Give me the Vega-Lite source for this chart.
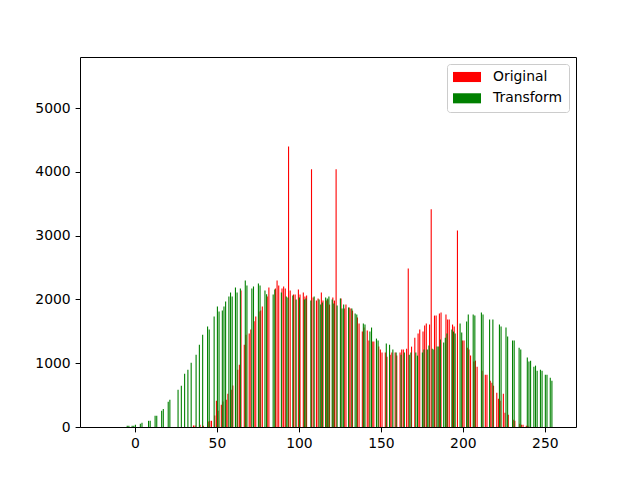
{
  "$schema": "https://vega.github.io/schema/vega-lite/v6.json",
  "width": 496,
  "height": 370,
  "autosize": {"type": "none"},
  "padding": {"left": 80, "top": 57, "right": 64, "bottom": 53},
  "background": "white",
  "config": {
    "font": "DejaVu Sans",
    "view": {"stroke": "black", "strokeWidth": 1},
    "axis": {
      "domain": false,
      "grid": false,
      "tickColor": "black",
      "tickSize": 4.9,
      "tickWidth": 1,
      "labelFontSize": 13.9,
      "labelColor": "black",
      "labelPadding": 4.9,
      "title": null
    }
  },
  "datasets": {
    "original": [
      {"value": 36, "count": 24, "series": "Original"}, {"value": 37, "count": 24, "series": "Original"},
      {"value": 40, "count": 34, "series": "Original"}, {"value": 42, "count": 18, "series": "Original"},
      {"value": 45, "count": 86, "series": "Original"}, {"value": 46, "count": 97, "series": "Original"},
      {"value": 47, "count": 97, "series": "Original"}, {"value": 49, "count": 181, "series": "Original"},
      {"value": 50, "count": 412, "series": "Original"}, {"value": 51, "count": 255, "series": "Original"},
      {"value": 53, "count": 349, "series": "Original"}, {"value": 54, "count": 401, "series": "Original"},
      {"value": 56, "count": 427, "series": "Original"}, {"value": 57, "count": 521, "series": "Original"},
      {"value": 59, "count": 584, "series": "Original"}, {"value": 60, "count": 652, "series": "Original"},
      {"value": 63, "count": 899, "series": "Original"}, {"value": 64, "count": 977, "series": "Original"},
      {"value": 65, "count": 2141, "series": "Original"}, {"value": 67, "count": 1291, "series": "Original"},
      {"value": 68, "count": 1448, "series": "Original"}, {"value": 70, "count": 1464, "series": "Original"},
      {"value": 71, "count": 1527, "series": "Original"}, {"value": 73, "count": 1658, "series": "Original"},
      {"value": 74, "count": 1731, "series": "Original"}, {"value": 76, "count": 1810, "series": "Original"},
      {"value": 77, "count": 1825, "series": "Original"}, {"value": 78, "count": 1888, "series": "Original"},
      {"value": 81, "count": 2045, "series": "Original"}, {"value": 82, "count": 2187, "series": "Original"},
      {"value": 86, "count": 2171, "series": "Original"}, {"value": 87, "count": 2297, "series": "Original"},
      {"value": 88, "count": 2218, "series": "Original"}, {"value": 90, "count": 2171, "series": "Original"},
      {"value": 91, "count": 2203, "series": "Original"}, {"value": 92, "count": 2171, "series": "Original"},
      {"value": 94, "count": 4397, "series": "Original"}, {"value": 95, "count": 2140, "series": "Original"},
      {"value": 97, "count": 2077, "series": "Original"}, {"value": 98, "count": 2077, "series": "Original"},
      {"value": 100, "count": 2155, "series": "Original"}, {"value": 101, "count": 2077, "series": "Original"},
      {"value": 103, "count": 2108, "series": "Original"}, {"value": 104, "count": 2045, "series": "Original"},
      {"value": 105, "count": 2061, "series": "Original"}, {"value": 108, "count": 4040, "series": "Original"},
      {"value": 109, "count": 2030, "series": "Original"}, {"value": 111, "count": 1982, "series": "Original"},
      {"value": 112, "count": 2014, "series": "Original"}, {"value": 114, "count": 2108, "series": "Original"},
      {"value": 115, "count": 1982, "series": "Original"}, {"value": 117, "count": 1982, "series": "Original"},
      {"value": 118, "count": 1998, "series": "Original"}, {"value": 119, "count": 1919, "series": "Original"},
      {"value": 121, "count": 2030, "series": "Original"}, {"value": 122, "count": 1982, "series": "Original"},
      {"value": 123, "count": 4040, "series": "Original"}, {"value": 126, "count": 2014, "series": "Original"},
      {"value": 128, "count": 1857, "series": "Original"}, {"value": 129, "count": 1919, "series": "Original"},
      {"value": 131, "count": 1872, "series": "Original"}, {"value": 132, "count": 1857, "series": "Original"},
      {"value": 133, "count": 1825, "series": "Original"}, {"value": 136, "count": 1716, "series": "Original"},
      {"value": 137, "count": 1622, "series": "Original"}, {"value": 139, "count": 1496, "series": "Original"},
      {"value": 140, "count": 1559, "series": "Original"}, {"value": 142, "count": 1512, "series": "Original"},
      {"value": 143, "count": 1355, "series": "Original"}, {"value": 145, "count": 1339, "series": "Original"},
      {"value": 146, "count": 1339, "series": "Original"}, {"value": 149, "count": 1260, "series": "Original"},
      {"value": 150, "count": 1213, "series": "Original"}, {"value": 151, "count": 1166, "series": "Original"},
      {"value": 153, "count": 1166, "series": "Original"}, {"value": 154, "count": 1103, "series": "Original"},
      {"value": 156, "count": 1134, "series": "Original"}, {"value": 157, "count": 1166, "series": "Original"},
      {"value": 159, "count": 1166, "series": "Original"}, {"value": 160, "count": 1119, "series": "Original"},
      {"value": 162, "count": 1166, "series": "Original"}, {"value": 163, "count": 1213, "series": "Original"},
      {"value": 164, "count": 1213, "series": "Original"}, {"value": 166, "count": 1228, "series": "Original"},
      {"value": 167, "count": 2485, "series": "Original"}, {"value": 169, "count": 1260, "series": "Original"},
      {"value": 171, "count": 1401, "series": "Original"}, {"value": 173, "count": 1464, "series": "Original"},
      {"value": 174, "count": 1527, "series": "Original"}, {"value": 176, "count": 1496, "series": "Original"},
      {"value": 177, "count": 1590, "series": "Original"}, {"value": 178, "count": 1621, "series": "Original"},
      {"value": 180, "count": 1606, "series": "Original"}, {"value": 181, "count": 3412, "series": "Original"},
      {"value": 183, "count": 1747, "series": "Original"}, {"value": 184, "count": 1747, "series": "Original"},
      {"value": 186, "count": 1778, "series": "Original"}, {"value": 187, "count": 1794, "series": "Original"},
      {"value": 190, "count": 1763, "series": "Original"}, {"value": 191, "count": 1684, "series": "Original"},
      {"value": 192, "count": 1684, "series": "Original"}, {"value": 194, "count": 1606, "series": "Original"},
      {"value": 195, "count": 1574, "series": "Original"}, {"value": 197, "count": 3082, "series": "Original"},
      {"value": 200, "count": 1354, "series": "Original"}, {"value": 201, "count": 1354, "series": "Original"},
      {"value": 203, "count": 1244, "series": "Original"}, {"value": 204, "count": 1213, "series": "Original"},
      {"value": 205, "count": 1119, "series": "Original"}, {"value": 207, "count": 1025, "series": "Original"},
      {"value": 208, "count": 1040, "series": "Original"}, {"value": 209, "count": 946, "series": "Original"},
      {"value": 212, "count": 883, "series": "Original"}, {"value": 214, "count": 820, "series": "Original"},
      {"value": 215, "count": 820, "series": "Original"}, {"value": 217, "count": 726, "series": "Original"},
      {"value": 218, "count": 695, "series": "Original"}, {"value": 219, "count": 648, "series": "Original"},
      {"value": 221, "count": 537, "series": "Original"}, {"value": 222, "count": 443, "series": "Original"},
      {"value": 223, "count": 412, "series": "Original"}, {"value": 225, "count": 521, "series": "Original"},
      {"value": 226, "count": 223, "series": "Original"}, {"value": 228, "count": 192, "series": "Original"},
      {"value": 231, "count": 114, "series": "Original"}, {"value": 232, "count": 98, "series": "Original"},
      {"value": 235, "count": 51, "series": "Original"}, {"value": 236, "count": 35, "series": "Original"},
      {"value": 237, "count": 35, "series": "Original"}, {"value": 239, "count": 20, "series": "Original"},
      {"value": 240, "count": 20, "series": "Original"}
    ],
    "transform": [
      {"value": -5, "count": 20, "series": "Transform"}, {"value": -4, "count": 20, "series": "Transform"},
      {"value": -2, "count": 20, "series": "Transform"}, {"value": -1, "count": 20, "series": "Transform"},
      {"value": 0, "count": 35, "series": "Transform"}, {"value": 3, "count": 50, "series": "Transform"},
      {"value": 4, "count": 66, "series": "Transform"}, {"value": 8, "count": 97, "series": "Transform"},
      {"value": 9, "count": 97, "series": "Transform"}, {"value": 12, "count": 176, "series": "Transform"},
      {"value": 13, "count": 176, "series": "Transform"}, {"value": 16, "count": 254, "series": "Transform"},
      {"value": 17, "count": 281, "series": "Transform"}, {"value": 20, "count": 396, "series": "Transform"},
      {"value": 21, "count": 427, "series": "Transform"}, {"value": 26, "count": 584, "series": "Transform"},
      {"value": 28, "count": 647, "series": "Transform"}, {"value": 30, "count": 836, "series": "Transform"},
      {"value": 32, "count": 899, "series": "Transform"}, {"value": 34, "count": 1009, "series": "Transform"},
      {"value": 37, "count": 1134, "series": "Transform"}, {"value": 39, "count": 1291, "series": "Transform"},
      {"value": 41, "count": 1448, "series": "Transform"}, {"value": 44, "count": 1574, "series": "Transform"},
      {"value": 45, "count": 1527, "series": "Transform"}, {"value": 48, "count": 1731, "series": "Transform"},
      {"value": 50, "count": 1888, "series": "Transform"}, {"value": 51, "count": 1810, "series": "Transform"},
      {"value": 53, "count": 1825, "series": "Transform"}, {"value": 54, "count": 1888, "series": "Transform"},
      {"value": 55, "count": 1967, "series": "Transform"}, {"value": 57, "count": 2045, "series": "Transform"},
      {"value": 58, "count": 2108, "series": "Transform"}, {"value": 59, "count": 2045, "series": "Transform"},
      {"value": 61, "count": 2187, "series": "Transform"}, {"value": 62, "count": 2108, "series": "Transform"},
      {"value": 64, "count": 2171, "series": "Transform"}, {"value": 67, "count": 2297, "series": "Transform"},
      {"value": 68, "count": 2218, "series": "Transform"}, {"value": 71, "count": 2171, "series": "Transform"},
      {"value": 72, "count": 2203, "series": "Transform"}, {"value": 75, "count": 2250, "series": "Transform"},
      {"value": 76, "count": 2218, "series": "Transform"}, {"value": 79, "count": 2140, "series": "Transform"},
      {"value": 80, "count": 2080, "series": "Transform"}, {"value": 84, "count": 2077, "series": "Transform"},
      {"value": 85, "count": 2155, "series": "Transform"}, {"value": 89, "count": 2108, "series": "Transform"},
      {"value": 92, "count": 2045, "series": "Transform"}, {"value": 93, "count": 2030, "series": "Transform"},
      {"value": 96, "count": 2061, "series": "Transform"}, {"value": 98, "count": 1998, "series": "Transform"},
      {"value": 100, "count": 2030, "series": "Transform"}, {"value": 103, "count": 1998, "series": "Transform"},
      {"value": 104, "count": 2014, "series": "Transform"}, {"value": 107, "count": 1982, "series": "Transform"},
      {"value": 109, "count": 2045, "series": "Transform"}, {"value": 112, "count": 1998, "series": "Transform"},
      {"value": 113, "count": 1919, "series": "Transform"}, {"value": 114, "count": 1951, "series": "Transform"},
      {"value": 116, "count": 2030, "series": "Transform"}, {"value": 117, "count": 2014, "series": "Transform"},
      {"value": 118, "count": 2045, "series": "Transform"}, {"value": 120, "count": 1998, "series": "Transform"},
      {"value": 121, "count": 1935, "series": "Transform"}, {"value": 123, "count": 1904, "series": "Transform"},
      {"value": 125, "count": 2014, "series": "Transform"}, {"value": 126, "count": 1857, "series": "Transform"},
      {"value": 127, "count": 1919, "series": "Transform"}, {"value": 130, "count": 1872, "series": "Transform"},
      {"value": 132, "count": 1857, "series": "Transform"}, {"value": 134, "count": 1778, "series": "Transform"},
      {"value": 135, "count": 1763, "series": "Transform"}, {"value": 139, "count": 1622, "series": "Transform"},
      {"value": 140, "count": 1606, "series": "Transform"}, {"value": 143, "count": 1496, "series": "Transform"},
      {"value": 144, "count": 1559, "series": "Transform"}, {"value": 147, "count": 1386, "series": "Transform"},
      {"value": 148, "count": 1354, "series": "Transform"}, {"value": 153, "count": 1307, "series": "Transform"},
      {"value": 155, "count": 1291, "series": "Transform"}, {"value": 157, "count": 1213, "series": "Transform"},
      {"value": 159, "count": 1166, "series": "Transform"}, {"value": 162, "count": 1134, "series": "Transform"},
      {"value": 164, "count": 1166, "series": "Transform"}, {"value": 167, "count": 1134, "series": "Transform"},
      {"value": 168, "count": 1166, "series": "Transform"}, {"value": 171, "count": 1166, "series": "Transform"},
      {"value": 172, "count": 1119, "series": "Transform"}, {"value": 175, "count": 1166, "series": "Transform"},
      {"value": 176, "count": 1213, "series": "Transform"}, {"value": 178, "count": 1213, "series": "Transform"},
      {"value": 179, "count": 1276, "series": "Transform"}, {"value": 181, "count": 1228, "series": "Transform"},
      {"value": 182, "count": 1213, "series": "Transform"}, {"value": 184, "count": 1260, "series": "Transform"},
      {"value": 185, "count": 1260, "series": "Transform"}, {"value": 186, "count": 1370, "series": "Transform"},
      {"value": 188, "count": 1323, "series": "Transform"}, {"value": 189, "count": 1401, "series": "Transform"},
      {"value": 190, "count": 1464, "series": "Transform"}, {"value": 193, "count": 1527, "series": "Transform"},
      {"value": 194, "count": 1496, "series": "Transform"}, {"value": 195, "count": 1464, "series": "Transform"},
      {"value": 198, "count": 1621, "series": "Transform"}, {"value": 199, "count": 1480, "series": "Transform"},
      {"value": 202, "count": 1653, "series": "Transform"}, {"value": 203, "count": 1763, "series": "Transform"},
      {"value": 206, "count": 1763, "series": "Transform"}, {"value": 207, "count": 1747, "series": "Transform"},
      {"value": 211, "count": 1794, "series": "Transform"}, {"value": 212, "count": 1763, "series": "Transform"},
      {"value": 216, "count": 1684, "series": "Transform"}, {"value": 218, "count": 1684, "series": "Transform"},
      {"value": 222, "count": 1605, "series": "Transform"}, {"value": 223, "count": 1574, "series": "Transform"},
      {"value": 226, "count": 1558, "series": "Transform"}, {"value": 227, "count": 1417, "series": "Transform"},
      {"value": 230, "count": 1354, "series": "Transform"}, {"value": 231, "count": 1354, "series": "Transform"},
      {"value": 234, "count": 1244, "series": "Transform"}, {"value": 235, "count": 1213, "series": "Transform"},
      {"value": 239, "count": 1088, "series": "Transform"}, {"value": 240, "count": 1025, "series": "Transform"},
      {"value": 241, "count": 1040, "series": "Transform"}, {"value": 243, "count": 946, "series": "Transform"},
      {"value": 244, "count": 962, "series": "Transform"}, {"value": 245, "count": 883, "series": "Transform"},
      {"value": 247, "count": 899, "series": "Transform"}, {"value": 248, "count": 883, "series": "Transform"},
      {"value": 250, "count": 820, "series": "Transform"}, {"value": 251, "count": 820, "series": "Transform"},
      {"value": 253, "count": 773, "series": "Transform"}, {"value": 254, "count": 726, "series": "Transform"}
    ]
  },
  "encoding": {
    "x": {
      "field": "value",
      "type": "quantitative",
      "scale": {"domain": [-33.5, 269], "nice": false, "zero": false, "padding": 0},
      "axis": {"values": [0, 50, 100, 150, 200, 250]}
    },
    "y": {
      "field": "count",
      "type": "quantitative",
      "scale": {"domain": [0, 5800], "nice": false, "padding": 0},
      "axis": {"values": [0, 1000, 2000, 3000, 4000, 5000], "format": "d"}
    },
    "color": {
      "field": "series",
      "type": "nominal",
      "scale": {"domain": ["Original", "Transform"], "range": ["#ff0000", "#008000"]},
      "legend": {
        "title": null,
        "orient": "none",
        "legendX": 367,
        "legendY": 7,
        "padding": 6,
        "strokeColor": "#cccccc",
        "fillColor": "white",
        "cornerRadius": 3,
        "symbolType": "M-1,-0.72H3V0.72H-1Z",
        "symbolSize": 196,
        "symbolStrokeWidth": 0,
        "symbolOpacity": 1,
        "labelFontSize": 13.9,
        "labelColor": "black",
        "labelOffset": 26,
        "rowPadding": 7.3
      }
    }
  },
  "layer": [
    {
      "data": {"name": "original"},
      "mark": {"type": "bar", "width": 1.1, "xOffset": -0.5}
    },
    {
      "data": {"name": "transform"},
      "mark": {"type": "bar", "width": 1.1, "xOffset": 0.5}
    }
  ]
}
